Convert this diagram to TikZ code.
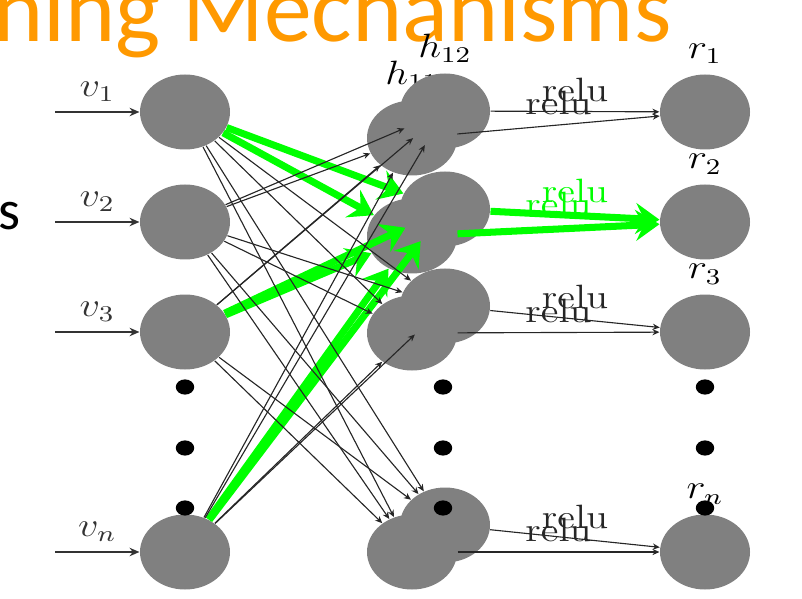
\documentclass[tikz,border=0pt]{standalone}
\usepackage{amsmath}
\usepackage{fontspec}
\usepackage{tikz}
\usetikzlibrary{positioning,shapes.geometric,arrows.meta}
\usepackage{xcolor}
\newfontfamily\slidefont{Carlito}
\definecolor{slideorange}{RGB}{255,153,0}
\definecolor{unitgray}{RGB}{128,128,128}
\definecolor{hotgreen}{RGB}{0,255,0}
\newcommand{\wide}[1]{\scalebox{1.2}[1]{#1}}

\begin{document}
\begin{tikzpicture}[scale=0.5,
	unit/.style={ellipse, fill=unitgray, inner sep=0pt, minimum width=1.125cm, minimum height=0.9375cm},
	blob/.style={ellipse, fill=black, inner sep=0pt, minimum width=0.23cm, minimum height=0.19cm},
	feed/.style={-{Stealth[length=3.5pt,width=3pt]}, black!80, line width=0.6pt},
	link/.style={-{Stealth[length=2.5pt,width=2.2pt]}, black!85, line width=0.4pt},
	hot/.style={-{Stealth[length=8.5pt,width=11pt,inset=3pt]}, hotgreen, line width=2.5pt},
	every label/.append style={font=\large}]
	\useasboundingbox (0,0) rectangle (20.05,14.95);
	\clip (0,0) rectangle (20.05,14.95);
	% slide text behind the figure
	\node [anchor=base west, inner sep=0pt, text=slideorange, font=\slidefont\fontsize{34}{40}\selectfont] (title) at (-0.175, 13.9) {ning Mechanisms};
	\node [anchor=base west, inner sep=0pt, font=\slidefont\fontsize{20}{24}\selectfont] (cut) at (-0.05, 9.2) {s};
	% input layer
	\node [unit] (v1) at (4.625, 12.15) {};
	\node [unit] (v2) at (4.625, 9.4) {};
	\node [unit] (v3) at (4.625, 6.65) {};
	\node [unit] (vn) at (4.625, 1.15) {};
	% hidden layer, two copies
	\node [unit, label=above:{\wide{$h_{11}$}}] (a1) at (10.3, 11.5) {};
	\node [unit] (a2) at (10.3, 9.05) {};
	\node [unit] (a3) at (10.3, 6.625) {};
	\node [unit] (an) at (10.3, 1.15) {};
	\node [unit, label=above:{\wide{$h_{12}$}}] (b1) at (11.125, 12.175) {};
	\node [unit] (b2) at (11.125, 9.725) {};
	\node [unit] (b3) at (11.125, 7.3) {};
	\node [unit] (bn) at (11.125, 1.825) {};
	% output layer
	\node [unit, label=above:{\wide{$r_1$}}] (r1) at (17.625, 12.15) {};
	\node [unit, label=above:{\wide{$r_2$}}] (r2) at (17.625, 9.4) {};
	\node [unit, label=above:{\wide{$r_3$}}] (r3) at (17.625, 6.65) {};
	\node [unit, label=above:{\wide{$r_n$}}] (rn) at (17.625, 1.15) {};
	% dots
	\node [blob] (d1) at (4.625, 5.275) {};
	\node [blob] (d2) at (4.625, 3.75) {};
	\node [blob] (d3) at (4.625, 2.25) {};
	\node [blob] (d4) at (11.075, 5.275) {};
	\node [blob] (d5) at (11.075, 3.75) {};
	\node [blob] (d6) at (11.075, 2.25) {};
	\node [blob] (d7) at (17.625, 5.275) {};
	\node [blob] (d8) at (17.625, 3.75) {};
	\node [blob] (d9) at (17.625, 2.25) {};
	% inputs
	\coordinate (in1) at (1.375, 12.15);
	\coordinate (in2) at (1.375, 9.4);
	\coordinate (in3) at (1.375, 6.65);
	\coordinate (inn) at (1.375, 1.15);
	\draw [feed] (in1) -- (v1) node [midway, above] {\wide{\large$v_1$}};
	\draw [feed] (in2) -- (v2) node [midway, above] {\wide{\large$v_2$}};
	\draw [feed] (in3) -- (v3) node [midway, above] {\wide{\large$v_3$}};
	\draw [feed] (inn) -- (vn) node [midway, above] {\wide{\large$v_n$}};
	% strong weights into h_2
	\draw [hot] (v1) -- (a2);
	\draw [hot] (v1) -- (b2);
	\draw [hot] (v3) -- (a2);
	\draw [hot] (v3) -- (b2);
	\draw [hot] (vn) -- (a2);
	\draw [hot] (vn) -- (b2);
	% other weights
	\draw [link] (v1) -- (a3);
	\draw [link] (v1) -- (b3);
	\draw [link] (v1) -- (an);
	\draw [link] (v1) -- (bn);
	\draw [link] (v2) -- (a1);
	\draw [link] (v2) -- (b1);
	\draw [link] (v2) -- (a3);
	\draw [link] (v2) -- (b3);
	\draw [link] (v2) -- (an);
	\draw [link] (v2) -- (bn);
	\draw [link] (v3) -- (a1);
	\draw [link] (v3) -- (b1);
	\draw [link] (v3) -- (an);
	\draw [link] (v3) -- (bn);
	\draw [link] (vn) -- (a1);
	\draw [link] (vn) -- (b1);
	\draw [link] (vn) -- (a3);
	\draw [link] (vn) -- (b3);
	% outputs
	\draw [link] (a1) -- (r1) node [midway, above] {\wide{\large relu}};
	\draw [link] (b1) -- (r1) node [midway, above] {\wide{\large relu}};
	\draw [hot] (a2) -- (r2) node [midway, above, text=hotgreen] {\wide{\large relu}};
	\draw [hot] (b2) -- (r2) node [midway, above, text=hotgreen] {\wide{\large relu}};
	\draw [link] (a3) -- (r3) node [midway, above] {\wide{\large relu}};
	\draw [link] (b3) -- (r3) node [midway, above] {\wide{\large relu}};
	\draw [link] (an) -- (rn) node [midway, above] {\wide{\large relu}};
	\draw [link] (bn) -- (rn) node [midway, above] {\wide{\large relu}};
\end{tikzpicture}
\end{document}
